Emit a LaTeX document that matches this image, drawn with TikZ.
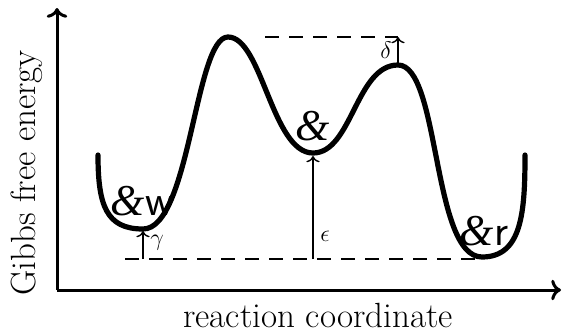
\documentclass[tikz,border=0pt]{standalone}
\usepackage{fontspec}
\usepackage{tikz}
\usetikzlibrary{arrows.meta}
\newfontfamily\ampfont{Liberation Serif}
\tikzset{
  axisarr/.style   = {->,line width=1.5pt},
  landscape/.style = {line width=2.6pt,line cap=round},
  gaparr/.style    = {->,line width=0.7pt},
  levelline/.style = {dash pattern=on 7pt off 5pt,line width=0.7pt},
  statelbl/.style  = {font=\fontsize{22}{26}\selectfont,inner sep=0pt},
  axislbl/.style   = {font=\fontsize{17.5}{21}\selectfont,inner sep=0pt},
  gaplbl/.style    = {font=\fontsize{12}{14}\selectfont,inner sep=1pt}
}
\newcommand{\amp}{{\ampfont\itshape\&}}

\begin{document}
\begin{tikzpicture}[x=0.5pt,y=-0.5pt]
  \useasboundingbox (0,0) rectangle (563,333);
  % axes
  \coordinate (orig) at (57,290);
  \coordinate (ytip) at (57,8);
  \coordinate (xtip) at (561,290);
  \draw[axisarr] (orig) -- (ytip);
  \draw[axisarr] (orig) -- (xtip);
  \node[axislbl,rotate=90] (ylbl) at (27,173) {Gibbs free energy};
  \node[axislbl] (xlbl) at (318,315) {reaction coordinate};
  % landscape points
  \coordinate (lstart) at (98,155);
  \coordinate (wmin)   at (143,229);
  \coordinate (peakA)  at (228,37);
  \coordinate (cmin)   at (313,153);
  \coordinate (peakB)  at (398,65);
  \coordinate (rmin)   at (482,257);
  \coordinate (rend)   at (525,155);
  % reference levels
  \coordinate (lowL) at (125,259);
  \coordinate (lowR) at (480,259);
  \coordinate (topL) at (265,37);
  \coordinate (topR) at (398,37);
  \draw[levelline] (lowL) -- (lowR);
  \draw[levelline] (topL) -- (topR);
  % gaps
  \coordinate (gbase) at (143,259);
  \coordinate (gtip)  at (143,231);
  \coordinate (ebase) at (313,259);
  \coordinate (etip)  at (313,156);
  \coordinate (dbase) at (398,63);
  \draw[gaparr] (gbase) -- (gtip);
  \draw[gaparr] (ebase) -- (etip);
  \draw[gaparr] (dbase) -- (topR);
  \node[gaplbl] (gam) at (157,243) {$\gamma$};
  \node[gaplbl] (eps) at (325,236) {$\epsilon$};
  \node[gaplbl] (del) at (386,50)  {$\delta$};
  % free energy curve
  \draw[landscape] (lstart) .. controls (98,205) and (106,229) .. (wmin)
    .. controls (190,229) and (195,37) .. (peakA)
    .. controls (262,37) and (272,153) .. (cmin)
    .. controls (352,153) and (356,65) .. (peakB)
    .. controls (440,65) and (432,257) .. (rmin)
    .. controls (522,257) and (525,212) .. (rend);
  \node[statelbl] (sw) at (142,201) {\amp\textsf{w}};
  \node[statelbl] (sc) at (313,126) {\amp};
  \node[statelbl] (sr) at (484,231) {\amp\textsf{r}};
\end{tikzpicture}
\end{document}
